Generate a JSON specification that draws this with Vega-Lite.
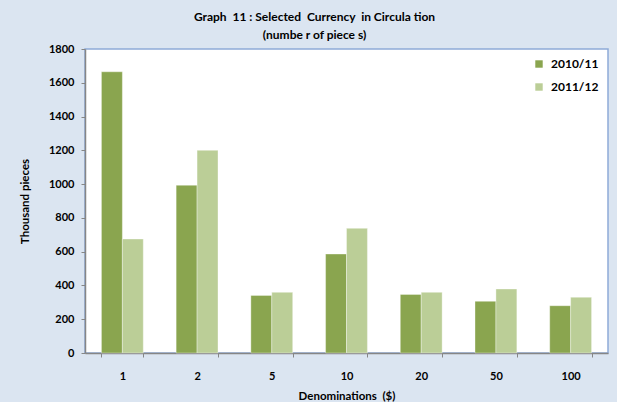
{
  "$schema": "https://vega.github.io/schema/vega-lite/v6.json",
  "width": 523,
  "height": 304,
  "autosize": {"type": "none"},
  "padding": {"left": 85, "top": 49, "right": 9, "bottom": 49},
  "background": "#dbe5f1",
  "title": {
    "text": ["Graph \u00a011 : Selected \u00a0Currency \u00a0in Circula tion", "(numbe r of piece s)"],
    "font": "Lato",
    "fontSize": 12,
    "fontWeight": "bold",
    "color": "#000000",
    "anchor": "middle",
    "frame": "group",
    "dx": -32,
    "offset": 1,
    "lineHeight": 18
  },
  "data": {
    "values": [
      {"denom": "1", "year": "2010/11", "value": 1665},
      {"denom": "1", "year": "2011/12", "value": 675},
      {"denom": "2", "year": "2010/11", "value": 993},
      {"denom": "2", "year": "2011/12", "value": 1200},
      {"denom": "5", "year": "2010/11", "value": 341},
      {"denom": "5", "year": "2011/12", "value": 359},
      {"denom": "10", "year": "2010/11", "value": 586},
      {"denom": "10", "year": "2011/12", "value": 738},
      {"denom": "20", "year": "2010/11", "value": 347},
      {"denom": "20", "year": "2011/12", "value": 359},
      {"denom": "50", "year": "2010/11", "value": 306},
      {"denom": "50", "year": "2011/12", "value": 379},
      {"denom": "100", "year": "2010/11", "value": 280},
      {"denom": "100", "year": "2011/12", "value": 330}
    ]
  },
  "mark": {"type": "bar", "stroke": "#ffffff", "strokeOpacity": 0.35, "strokeWidth": 1},
  "encoding": {
    "x": {
      "field": "denom",
      "type": "nominal",
      "sort": ["1", "2", "5", "10", "20", "50", "100"],
      "scale": {"paddingInner": 0.44, "paddingOuter": 0.22},
      "axis": {
        "title": "Denominations \u00a0($)",
        "labelAngle": 0,
        "tickBand": "extent",
        "labelPadding": 13,
        "titlePadding": 9,
        "tickSize": 4,
        "tickColor": "#868686",
        "domainColor": "#868686",
        "domainWidth": 1.5
      }
    },
    "xOffset": {"field": "year", "type": "nominal", "scale": {"paddingInner": 0, "paddingOuter": 0}},
    "y": {
      "field": "value",
      "type": "quantitative",
      "scale": {"domain": [0, 1800]},
      "axis": {
        "title": "Thousand pieces",
        "format": "d",
        "values": [0, 200, 400, 600, 800, 1000, 1200, 1400, 1600, 1800],
        "grid": false,
        "tickSize": 4,
        "labelPadding": 7,
        "titlePadding": 18,
        "tickColor": "#868686",
        "domainColor": "#868686",
        "domainWidth": 1.5
      }
    },
    "color": {
      "field": "year",
      "type": "nominal",
      "scale": {"domain": ["2010/11", "2011/12"], "range": ["#8aa54f", "#bbce97"]},
      "legend": {
        "title": null,
        "orient": "none",
        "legendX": 448,
        "legendY": 9,
        "symbolType": "square",
        "symbolSize": 55,
        "symbolStrokeWidth": 0,
        "rowPadding": 11,
        "labelOffset": 6
      }
    }
  },
  "config": {
    "font": "Lato",
    "view": {"fill": "#ffffff", "stroke": "#8eaad8", "strokeWidth": 1.5},
    "axis": {
      "labelFont": "Lato",
      "labelFontSize": 11,
      "labelFontWeight": "bold",
      "labelColor": "#000000",
      "titleFont": "Lato",
      "titleFontSize": 11.5,
      "titleFontWeight": "bold",
      "titleColor": "#000000"
    },
    "legend": {
      "labelFont": "Lato",
      "labelFontSize": 12,
      "labelFontWeight": "bold",
      "labelColor": "#000000"
    }
  }
}
